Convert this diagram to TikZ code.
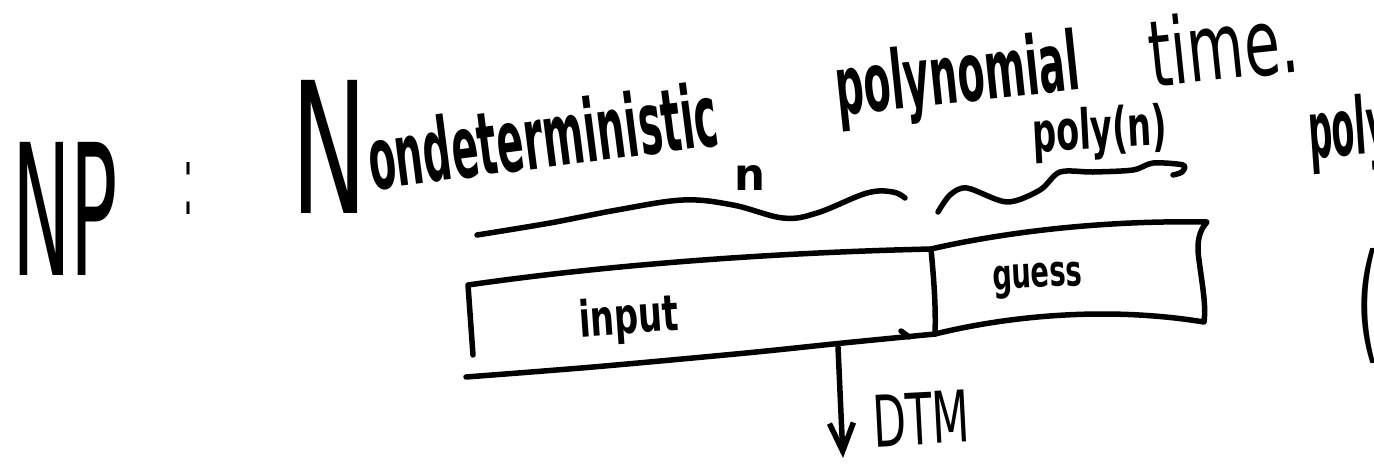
\documentclass[tikz,border=0pt]{standalone}
\usepackage{fontspec}
\setmainfont{DejaVu Sans}
\usetikzlibrary{arrows.meta}
\begin{document}
\begin{tikzpicture}[x=1pt,y=-1pt,
  pen/.style={line width=5.5pt,line cap=round,line join=round},
  hw/.style={inner sep=0pt,outer sep=0pt},
  hwb/.style={hw,font=\bfseries}]
\useasboundingbox (0,0) rectangle (1374,464);
% texts
\node[hw,anchor=base west] (np) at (12,275) {\resizebox{106pt}{133pt}{NP}};
\node[hw,anchor=base west] (colon) at (183,214) {\resizebox{10pt}{52pt}{:}};
\node[hw,anchor=base west] (bigN) at (291,213) {\resizebox{76pt}{133pt}{N}};
\node[hwb,anchor=base west,rotate=7.3] (ondet) at (372,190) {\resizebox{352pt}{66pt}{ondeterministic}};
\node[hwb,anchor=base west] (nlab) at (734,190) {\resizebox{31pt}{25pt}{n}};
\node[hwb,anchor=base west,rotate=6] (polyn) at (838,115) {\resizebox{245pt}{62pt}{polynomial}};
\node[hw,anchor=base west,rotate=6] (time) at (1152,87) {\resizebox{150pt}{70pt}{time.}};
\node[hwb,anchor=base west,rotate=3] (polylab) at (1033,152) {\resizebox{135pt}{42pt}{poly(n)}};
\node[hwb,anchor=base west,rotate=4] (poly2) at (1310,158) {\resizebox{80pt}{60pt}{poly}};
\node[hw] (paren) at (1368,306) {\resizebox*{24pt}{115pt}{(}};
\node[hwb,anchor=base west,rotate=4] (input) at (580,337) {\resizebox{100pt}{38pt}{input}};
\node[hwb,anchor=base west,rotate=3] (guess) at (993,290) {\resizebox{90pt}{24pt}{guess}};
\node[hw,anchor=base west,rotate=3] (dtm) at (874,447) {\resizebox{97pt}{52pt}{DTM}};
% tape
\coordinate (tl) at (468,285);
\coordinate (bl) at (473,355);
\coordinate (dt) at (931,249);
\coordinate (db) at (935,334);
\coordinate (gtr) at (1207,222);
\coordinate (gbr) at (1204,322);
\coordinate (lbl) at (466,377);
\draw[pen] (bl) -- (tl) .. controls (600,266) and (760,253) .. (dt);
\draw[pen] (dt) .. controls (934,280) and (936,310) .. (db);
\draw[pen] (dt) .. controls (1000,233) and (1100,220) .. (gtr)
  .. controls (1200,230) and (1196,240) .. (1199,260)
  .. controls (1203,290) and (1206,305) .. (gbr)
  .. controls (1100,305) and (1000,318) .. (db);
\draw[pen] plot[smooth] coordinates {(db) (843,343) (746,353) (593,367) (lbl)};
\draw[pen] (901,331) -- (909,337);
% braces
\draw[pen] plot[smooth,tension=0.6] coordinates {(477,235) (550,223) (617,210) (683,200) (733,205) (783,218) (817,213) (867,193) (893,192) (905,198)};
\draw[pen] plot[smooth] coordinates {(938,212) (950,195) (967,188) (1007,202) (1040,190) (1060,172) (1093,172) (1133,170) (1153,163) (1183,165) (1182,172) (1173,175)};
% arrow
\coordinate (as) at (838,347);
\coordinate (ae) at (843,458);
\draw[pen,-{Straight Barb[length=28pt,width=24pt]}] (as) -- (ae);
\end{tikzpicture}
\end{document}
